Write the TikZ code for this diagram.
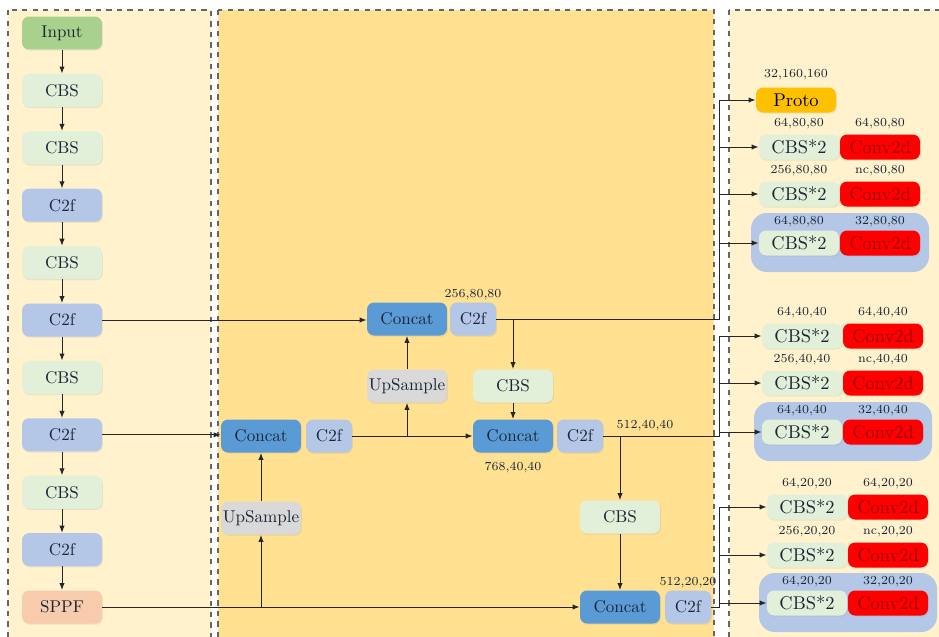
\documentclass[tikz,border=0pt]{standalone}
\usepackage{tikz}
\usetikzlibrary{arrows.meta,shadows}

\definecolor{paleBg}{HTML}{FFF2CC}
\definecolor{goldBg}{RGB}{255,225,145}
\definecolor{inGreen}{HTML}{A9D18E}
\definecolor{cbsGreen}{HTML}{E2F0D9}
\definecolor{cfBlue}{HTML}{B4C7E7}
\definecolor{catBlue}{HTML}{5B9BD5}
\definecolor{upGray}{HTML}{D9D9D9}
\definecolor{sppfRed}{HTML}{F8CBAD}
\definecolor{protoGold}{HTML}{FFC000}
\definecolor{convRed}{HTML}{FF0000}
\definecolor{convText}{HTML}{9A0000}
\definecolor{txtDark}{HTML}{1A2535}

\tikzset{
  blk/.style={rounded corners=4pt, minimum width=1.6cm, minimum height=0.66cm,
    inner sep=0pt, text=txtDark, font=\fontsize{9.7}{11}\selectfont,
    drop shadow={shadow xshift=0.5pt, shadow yshift=-0.7pt, opacity=0.15}},
  cfbox/.style={blk, fill=cfBlue, minimum width=0.92cm},
  headbox/.style={blk, minimum height=0.5cm, font=\fontsize{10.5}{12}\selectfont},
  dim/.style={font=\fontsize{7}{8}\selectfont, text=txtDark, inner sep=0pt},
  arr/.style={-{Latex[length=4pt,width=3pt]}, draw=black!85, line width=0.55pt},
  wire/.style={draw=black!85, line width=0.55pt},
  panel/.style={draw=black!60, dashed, line width=0.6pt}
}

\begin{document}
\begin{tikzpicture}[x=0.02cm, y=-0.02cm]
   \useasboundingbox (0,0) rectangle (939,636);
   \clip (0,0) rectangle (939,636);

   % the three parts
   \fill[white] (0,0) rectangle (939,636);
   \filldraw[panel, fill=paleBg] (8,10) rectangle (211,660);
   \filldraw[panel, fill=goldBg] (218,10) rectangle (714,660);
   \filldraw[panel, fill=paleBg] (729,10) rectangle (970,660);

   % backbone
   \foreach \t/\c [count=\i] in {Input/inGreen, CBS/cbsGreen, CBS/cbsGreen, C2f/cfBlue,
       CBS/cbsGreen, C2f/cfBlue, CBS/cbsGreen, C2f/cfBlue, CBS/cbsGreen, C2f/cfBlue, SPPF/sppfRed}
     \node[blk, fill=\c] (b\i) at (62, {33+57.4*(\i-1)}) {\t};
   \foreach \i [evaluate=\i as \j using int(\i+1)] in {1,...,10}
     \draw[arr] (b\i) -- (b\j);

   % neck
   \node[blk, fill=catBlue] (catL) at (261,436) {Concat};
   \node[cfbox] (cfL) at (329,436) {C2f};
   \node[blk, fill=upGray] (upL) at (261,518) {UpSample};
   \node[blk, fill=catBlue] (catA) at (407,319) {Concat};
   \node[cfbox] (cfA) at (473,319) {C2f};
   \node[blk, fill=upGray] (upA) at (407,386) {UpSample};
   \node[blk, fill=cbsGreen] (cbsB) at (513,386) {CBS};
   \node[blk, fill=catBlue] (catB) at (513,436) {Concat};
   \node[cfbox] (cfB) at (580,436) {C2f};
   \node[blk, fill=cbsGreen] (cbsC) at (620,517) {CBS};
   \node[blk, fill=catBlue] (catC) at (620,607) {Concat};
   \node[cfbox] (cfC) at (688,607) {C2f};

   \node[dim] (dA) at (473,295) {256,80,80};
   \node[dim] (dB) at (513,468) {768,40,40};
   \node[dim] (dC) at (645,426) {512,40,40};
   \node[dim] (dD) at (688,583) {512,20,20};

   \draw[arr] (b6.east) -- (b6.east -| catA.west);
   \draw[arr] (b8.east) -- (b8.east -| catL.west);
   \draw[arr] (b11.east) -- (b11.east -| catC.west);
   \draw[arr] (upL |- b11.east) -- (upL.south);
   \draw[arr] (upL) -- (catL);
   \draw[arr] (cfL.east) -- (catB.west);
   \draw[arr] (upA |- cfL.east) -- (upA.south);
   \draw[arr] (upA) -- (catA);
   \draw[arr] (cbsB |- cfA.east) -- (cbsB.north);
   \draw[arr] (cbsB) -- (catB);
   \draw[arr] (cbsC |- cfB.east) -- (cbsC.north);
   \draw[arr] (cbsC) -- (catC);

   % head
   \coordinate (bus) at (719,0);
   \node[headbox, fill=protoGold, text=black] (proto) at (796,100) {Proto};
   \node[dim] (dP) at (796,75) {32,160,160};
   \draw[arr] (bus |- proto.west) -- (proto.west);

   \foreach \g/\s/\xs/\ya/\yb/\yc/\src/\top in
       {h/80/0/147/194/243/cfA/proto, m/40/3/336/383/432/cfB/m1, l/20/8/507/555/603/cfC/l1} {
     \fill[cfBlue, rounded corners=9pt] (751+\xs,\yc-30) rectangle (929+\xs,\yc+29);
     \node[headbox, fill=cbsGreen] (\g1) at (799+\xs,\ya) {CBS*2};
     \node[headbox, fill=convRed, text=convText] (\g1c) at (880+\xs,\ya) {Conv2d};
     \node[headbox, fill=cbsGreen] (\g2) at (799+\xs,\yb) {CBS*2};
     \node[headbox, fill=convRed, text=convText] (\g2c) at (880+\xs,\yb) {Conv2d};
     \node[headbox, fill=cbsGreen] (\g3) at (799+\xs,\yc) {CBS*2};
     \node[headbox, fill=convRed, text=convText] (\g3c) at (880+\xs,\yc) {Conv2d};
     \node[dim] (\g1t) at (799+\xs,\ya-23) {64,\s,\s};
     \node[dim] (\g1u) at (880+\xs,\ya-23) {64,\s,\s};
     \node[dim] (\g2t) at (799+\xs,\yb-23) {256,\s,\s};
     \node[dim] (\g2u) at (880+\xs,\yb-23) {nc,\s,\s};
     \node[dim] (\g3t) at (799+\xs,\yc-21) {64,\s,\s};
     \node[dim] (\g3u) at (880+\xs,\yc-21) {32,\s,\s};
     \draw[wire] (\src.east) -| (bus |- \top.west);
     \draw[arr] (bus |- \g1.west) -- (\g1.west);
     \draw[arr] (bus |- \g2.west) -- (\g2.west);
     \draw[arr] (bus |- \g3.west) -- (\g3.west);
   }

\end{tikzpicture}
\end{document}
